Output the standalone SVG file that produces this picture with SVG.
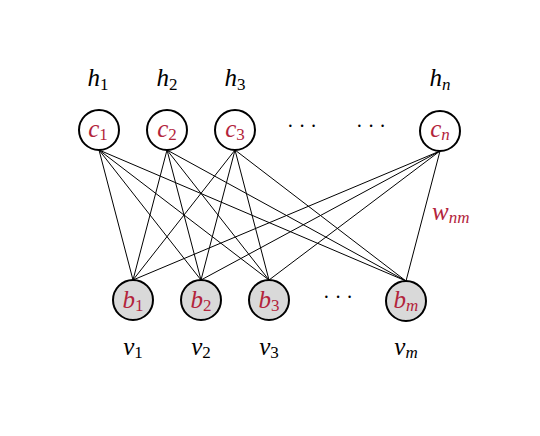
<svg xmlns="http://www.w3.org/2000/svg" width="540" height="436" viewBox="0 0 540 436">
<style>
.bg{fill:#ffffff}
.hid{fill:#ffffff;stroke:#000;stroke-width:2}
.vis{fill:#d9d9d9;stroke:#000;stroke-width:2}
.edge{stroke:#000;stroke-width:1;fill:none}
.m{font-family:"Liberation Serif","DejaVu Serif",serif;font-style:italic;font-size:25px;fill:#000}
.r{fill:#b3243b}
.s{font-size:17px}
.n{font-size:17px;font-style:normal}
.d{font-family:"Liberation Serif","DejaVu Serif",serif;font-size:20px;fill:#000}
</style>
<rect class="bg" x="0" y="0" width="540" height="436"/>
<g id="connectors">
<line class="edge" x1="99" y1="150" x2="133" y2="280"/>
<line class="edge" x1="99" y1="150" x2="201" y2="280"/>
<line class="edge" x1="99" y1="150" x2="269" y2="280"/>
<line class="edge" x1="99" y1="150" x2="406" y2="281"/>
<line class="edge" x1="167" y1="150" x2="133" y2="280"/>
<line class="edge" x1="167" y1="150" x2="201" y2="280"/>
<line class="edge" x1="167" y1="150" x2="269" y2="280"/>
<line class="edge" x1="167" y1="150" x2="406" y2="281"/>
<line class="edge" x1="235" y1="150" x2="133" y2="280"/>
<line class="edge" x1="235" y1="150" x2="201" y2="280"/>
<line class="edge" x1="235" y1="150" x2="269" y2="280"/>
<line class="edge" x1="235" y1="150" x2="406" y2="281"/>
<line class="edge" x1="440" y1="151" x2="133" y2="280"/>
<line class="edge" x1="440" y1="151" x2="201" y2="280"/>
<line class="edge" x1="440" y1="151" x2="269" y2="280"/>
<line class="edge" x1="440" y1="151" x2="406" y2="281"/>
</g>
<g id="c1"><circle class="hid" cx="99" cy="130" r="20"/><text class="m r" x="98" y="137" text-anchor="middle">c<tspan class="n" dy="3">1</tspan></text><text class="m" x="98" y="86" text-anchor="middle">h<tspan class="n" dy="4">1</tspan></text></g>
<g id="c2"><circle class="hid" cx="167" cy="130" r="20"/><text class="m r" x="167" y="137" text-anchor="middle">c<tspan class="n" dy="3">2</tspan></text><text class="m" x="167" y="86" text-anchor="middle">h<tspan class="n" dy="4">2</tspan></text></g>
<g id="c3"><circle class="hid" cx="235" cy="130" r="20"/><text class="m r" x="235" y="137" text-anchor="middle">c<tspan class="n" dy="3">3</tspan></text><text class="m" x="235" y="86" text-anchor="middle">h<tspan class="n" dy="4">3</tspan></text></g>
<g id="cn"><circle class="hid" cx="440" cy="131" r="20"/><text class="m r" x="440" y="137" text-anchor="middle">c<tspan class="s" dy="3">n</tspan></text><text class="m" x="440" y="86" text-anchor="middle">h<tspan class="s" dy="4">n</tspan></text></g>
<g id="dots"><text class="d" x="302" y="133" text-anchor="middle">· · ·</text><text class="d" x="371" y="133" text-anchor="middle">· · ·</text><text class="d" x="338" y="304" text-anchor="middle">· · ·</text></g>
<g id="b1"><circle class="vis" cx="133" cy="300" r="20"/><text class="m r" x="133" y="308" text-anchor="middle">b<tspan class="n" dy="3">1</tspan></text><text class="m" x="133" y="355" text-anchor="middle">v<tspan class="n" dy="3">1</tspan></text></g>
<g id="b2"><circle class="vis" cx="201" cy="300" r="20"/><text class="m r" x="201" y="308" text-anchor="middle">b<tspan class="n" dy="3">2</tspan></text><text class="m" x="201" y="355" text-anchor="middle">v<tspan class="n" dy="3">2</tspan></text></g>
<g id="b3"><circle class="vis" cx="269" cy="300" r="20"/><text class="m r" x="269" y="308" text-anchor="middle">b<tspan class="n" dy="3">3</tspan></text><text class="m" x="269" y="355" text-anchor="middle">v<tspan class="n" dy="3">3</tspan></text></g>
<g id="bm"><circle class="vis" cx="406" cy="301" r="20"/><text class="m r" x="406" y="308" text-anchor="middle">b<tspan class="s" dy="3">m</tspan></text><text class="m" x="406" y="355" text-anchor="middle">v<tspan class="s" dy="3">m</tspan></text></g>
<g id="wnm"><text class="m r" x="432" y="220">w<tspan class="s" dy="3">nm</tspan></text></g>
</svg>
